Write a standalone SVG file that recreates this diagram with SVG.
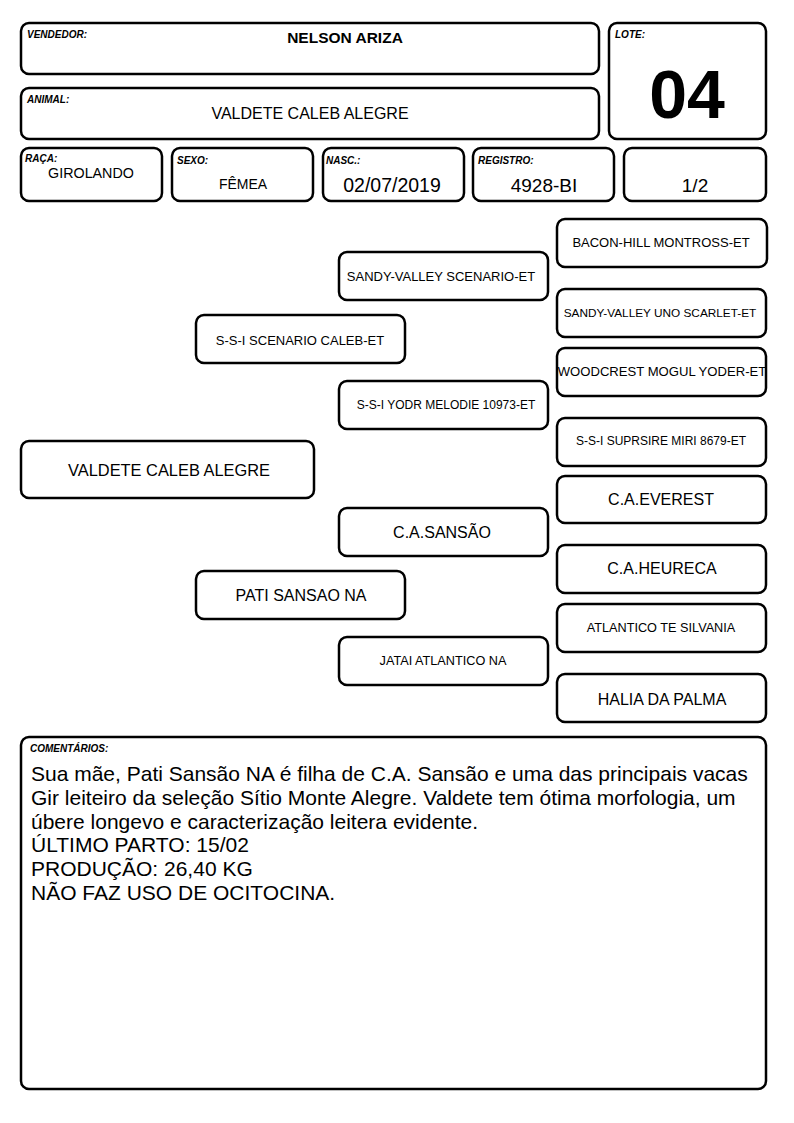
<svg xmlns="http://www.w3.org/2000/svg" width="794" height="1123" viewBox="0 0 794 1123">
<style>
.b{fill:#fff;stroke:#000;stroke-width:2.5}
.l{font-family:"Liberation Sans",Arial,sans-serif;font-size:10px;font-weight:bold;font-style:italic;fill:#000}
.t{font-family:"Liberation Sans",Arial,sans-serif;fill:#000;text-anchor:middle}
.c{font-family:"Liberation Sans",Arial,sans-serif;font-size:21px;fill:#000}
</style>
<rect width="794" height="1123" fill="#fff"/>
<g id="vendedor"><rect class="b" x="21" y="23" width="578" height="51" rx="8"/><text class="l" x="27" y="38">VENDEDOR:</text><text class="t" x="345" y="43" font-size="15.5" font-weight="bold">NELSON ARIZA</text></g>
<g id="animal"><rect class="b" x="21" y="88" width="578" height="51" rx="8"/><text class="l" x="27" y="103">ANIMAL:</text><text class="t" x="310" y="119" font-size="16">VALDETE CALEB ALEGRE</text></g>
<g id="lote"><rect class="b" x="609" y="23" width="157" height="116" rx="8"/><text class="l" x="615" y="38">LOTE:</text><text class="t" x="687" y="118" font-size="68" font-weight="bold">04</text></g>
<g id="raca"><rect class="b" x="21" y="148" width="141" height="53" rx="8"/><text class="l" x="25" y="162">RAÇA:</text><text class="t" x="91" y="178" font-size="14.3">GIROLANDO</text></g>
<g id="sexo"><rect class="b" x="172" y="148" width="141" height="53" rx="8"/><text class="l" x="177" y="164">SEXO:</text><text class="t" x="243" y="189" font-size="14">FÊMEA</text></g>
<g id="nasc"><rect class="b" x="323" y="148" width="141" height="53" rx="8"/><text class="l" x="326" y="164">NASC.:</text><text class="t" x="392" y="192" font-size="19.5">02/07/2019</text></g>
<g id="registro"><rect class="b" x="473" y="148" width="141" height="53" rx="8"/><text class="l" x="478" y="164">REGISTRO:</text><text class="t" x="544" y="192" font-size="19">4928-BI</text></g>
<g id="fracao"><rect class="b" x="624" y="148" width="142" height="53" rx="8"/><text class="t" x="695" y="192" font-size="19">1/2</text></g>
<g id="connectors"></g>
<g id="bacon"><rect class="b" x="557" y="219" width="210" height="48" rx="8"/><text class="t" x="661" y="247" font-size="13">BACON-HILL MONTROSS-ET</text></g>
<g id="sandy-scenario"><rect class="b" x="339" y="252" width="209" height="48" rx="8"/><text class="t" x="441" y="281" font-size="13">SANDY-VALLEY SCENARIO-ET</text></g>
<g id="sandy-uno"><rect class="b" x="557" y="289" width="209" height="48" rx="8"/><text class="t" x="660" y="317" font-size="11.8">SANDY-VALLEY UNO SCARLET-ET</text></g>
<g id="ssi-caleb"><rect class="b" x="196" y="315" width="209" height="48" rx="8"/><text class="t" x="300" y="345" font-size="13">S-S-I SCENARIO CALEB-ET</text></g>
<g id="woodcrest"><rect class="b" x="557" y="348" width="209" height="48" rx="8"/><text class="t" x="662" y="376" font-size="13.1">WOODCREST MOGUL YODER-ET</text></g>
<g id="ssi-yodr"><rect class="b" x="339" y="381" width="209" height="48" rx="8"/><text class="t" x="446" y="409" font-size="12">S-S-I YODR MELODIE 10973-ET</text></g>
<g id="ssi-suprsire"><rect class="b" x="557" y="418" width="209" height="48" rx="8"/><text class="t" x="661" y="445" font-size="12">S-S-I SUPRSIRE MIRI 8679-ET</text></g>
<g id="valdete"><rect class="b" x="21" y="441" width="293" height="57" rx="8"/><text class="t" x="169" y="476" font-size="16.4">VALDETE CALEB ALEGRE</text></g>
<g id="everest"><rect class="b" x="557" y="476" width="209" height="47" rx="8"/><text class="t" x="661" y="505" font-size="16">C.A.EVEREST</text></g>
<g id="sansao"><rect class="b" x="339" y="508" width="209" height="48" rx="8"/><text class="t" x="442" y="538" font-size="16">C.A.SANSÃO</text></g>
<g id="heureca"><rect class="b" x="557" y="545" width="209" height="48" rx="8"/><text class="t" x="662" y="574" font-size="16">C.A.HEURECA</text></g>
<g id="pati"><rect class="b" x="196" y="571" width="209" height="48" rx="8"/><text class="t" x="301" y="601" font-size="16">PATI SANSAO NA</text></g>
<g id="atlantico"><rect class="b" x="557" y="604" width="209" height="48" rx="8"/><text class="t" x="661" y="632" font-size="12.7">ATLANTICO TE SILVANIA</text></g>
<g id="jatai"><rect class="b" x="339" y="637" width="209" height="48" rx="8"/><text class="t" x="443" y="665" font-size="12.7">JATAI ATLANTICO NA</text></g>
<g id="halia"><rect class="b" x="557" y="674" width="209" height="48" rx="8"/><text class="t" x="662" y="705" font-size="16">HALIA DA PALMA</text></g>
<g id="comentarios"><rect class="b" x="21" y="737" width="745" height="352" rx="8"/><text class="l" x="30" y="752">COMENTÁRIOS:</text>
<text class="c" x="31" y="781">Sua mãe, Pati Sansão NA é filha de C.A. Sansão e uma das principais vacas</text>
<text class="c" x="31" y="805">Gir leiteiro da seleção Sítio Monte Alegre. Valdete tem ótima morfologia, um</text>
<text class="c" x="31" y="829">úbere longevo e caracterização leitera evidente.</text>
<text class="c" x="31" y="852">ÚLTIMO PARTO: 15/02</text>
<text class="c" x="31" y="876">PRODUÇÃO: 26,40 KG</text>
<text class="c" x="31" y="900">NÃO FAZ USO DE OCITOCINA.</text>
</g>
</svg>
